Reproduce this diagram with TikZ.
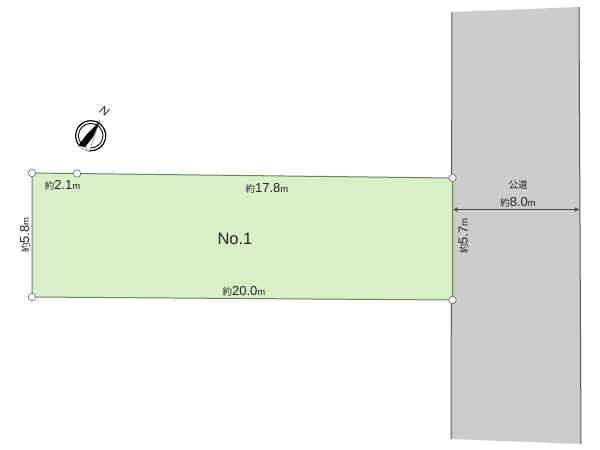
\documentclass[tikz,border=0pt]{standalone}
\usepackage{fontspec}
\usetikzlibrary{arrows.meta}
\setmainfont{Liberation Sans}
\newfontfamily\cjkf{Noto Sans CJK JP}
\definecolor{lotfill}{HTML}{D9F0C6}
\definecolor{lotline}{HTML}{6F8060}
\definecolor{roadfill}{HTML}{CCCCCC}
\definecolor{roadline}{HTML}{555555}
\definecolor{txt}{HTML}{222222}
\newcommand{\dimlabel}[3]{{\fontsize{#1}{#1}\cjkf 約}{\fontsize{#2}{#2}\selectfont #3}{\fontsize{#1}{#1}\selectfont m}}
\tikzset{
  corner/.style={circle,draw=black!60,fill=white,line width=.6pt,minimum size=7.5pt,inner sep=0pt},
  lbl/.style={inner sep=0pt,text=txt},
  anchorpt/.style={inner sep=0pt,minimum size=0pt}
}
\begin{document}
\begin{tikzpicture}[x=1pt,y=-1pt]
\useasboundingbox (0,0) rectangle (600,450);
\fill[white] (0,0) rectangle (600,450);
% road
\fill[roadfill] (452,12) -- (579,7) -- (581,444) -- (451,439) -- cycle;
\draw[roadline,line width=1pt] (452,12) -- (451,439);
\draw[roadline,line width=1pt] (579,7) -- (581,444);
% lot
\coordinate (a) at (32,173);
\coordinate (b) at (452.5,178);
\coordinate (c) at (452.5,300);
\coordinate (d) at (32,297);
\filldraw[fill=lotfill,draw=lotline,line width=1pt] (a) -- (b) -- (c) -- (d) -- cycle;
\node[corner] (ca) at (a) {};
\node[corner] (cb) at (b) {};
\node[corner] (cc) at (c) {};
\node[corner] (cd) at (d) {};
\node[corner] (ce) at (77,173.5) {};
% dimension arrow
\node[anchorpt] (wl) at (452.5,209.5) {};
\node[anchorpt] (wr) at (580,209.5) {};
\draw[{Latex[length=5pt,width=5pt]}-{Latex[length=5pt,width=5pt]},black!70,line width=1.1pt] (wl) -- (wr);
% labels
\node[lbl] (l1) at (62.5,185) {\dimlabel{9.5}{13}{2.1}};
\node[lbl] (l2) at (267,188.5) {\dimlabel{9.5}{13}{17.8}};
\node[lbl] (l3) at (244,291) {\dimlabel{9.5}{13}{20.0}};
\node[lbl,rotate=90] (l4) at (25,235) {\dimlabel{9.5}{13}{5.8}};
\node[lbl,rotate=90] (l5) at (463.5,236) {\dimlabel{9.5}{13}{5.7}};
\node[lbl] (l6) at (518,202.5) {\dimlabel{9.5}{13}{8.0}};
\node[lbl] (l7) at (518,185) {\fontsize{9.5}{9.5}\cjkf 公道};
\node[lbl] (l8) at (235,238.5) {\fontsize{16.5}{16.5}\selectfont No.1};
% compass
\draw[black,line width=1.2pt] (90.7,135.7) circle (15);
\draw[black,line width=.9pt] (90.7,135.7) circle (12.3);
\fill[white] (100,121) -- (89,152) -- (78,146) -- cycle;
\draw[black!55,line width=.5pt,fill=white] (100,120) -- (89,152) -- (85,147) -- cycle;
\fill[black] (100,121) -- (93,137) -- (85,147) -- (78,146) -- (87,134) -- cycle;
\node[lbl,rotate=-30] (north) at (104.5,111) {\fontsize{12}{12}\selectfont\itshape N};
\end{tikzpicture}
\end{document}
